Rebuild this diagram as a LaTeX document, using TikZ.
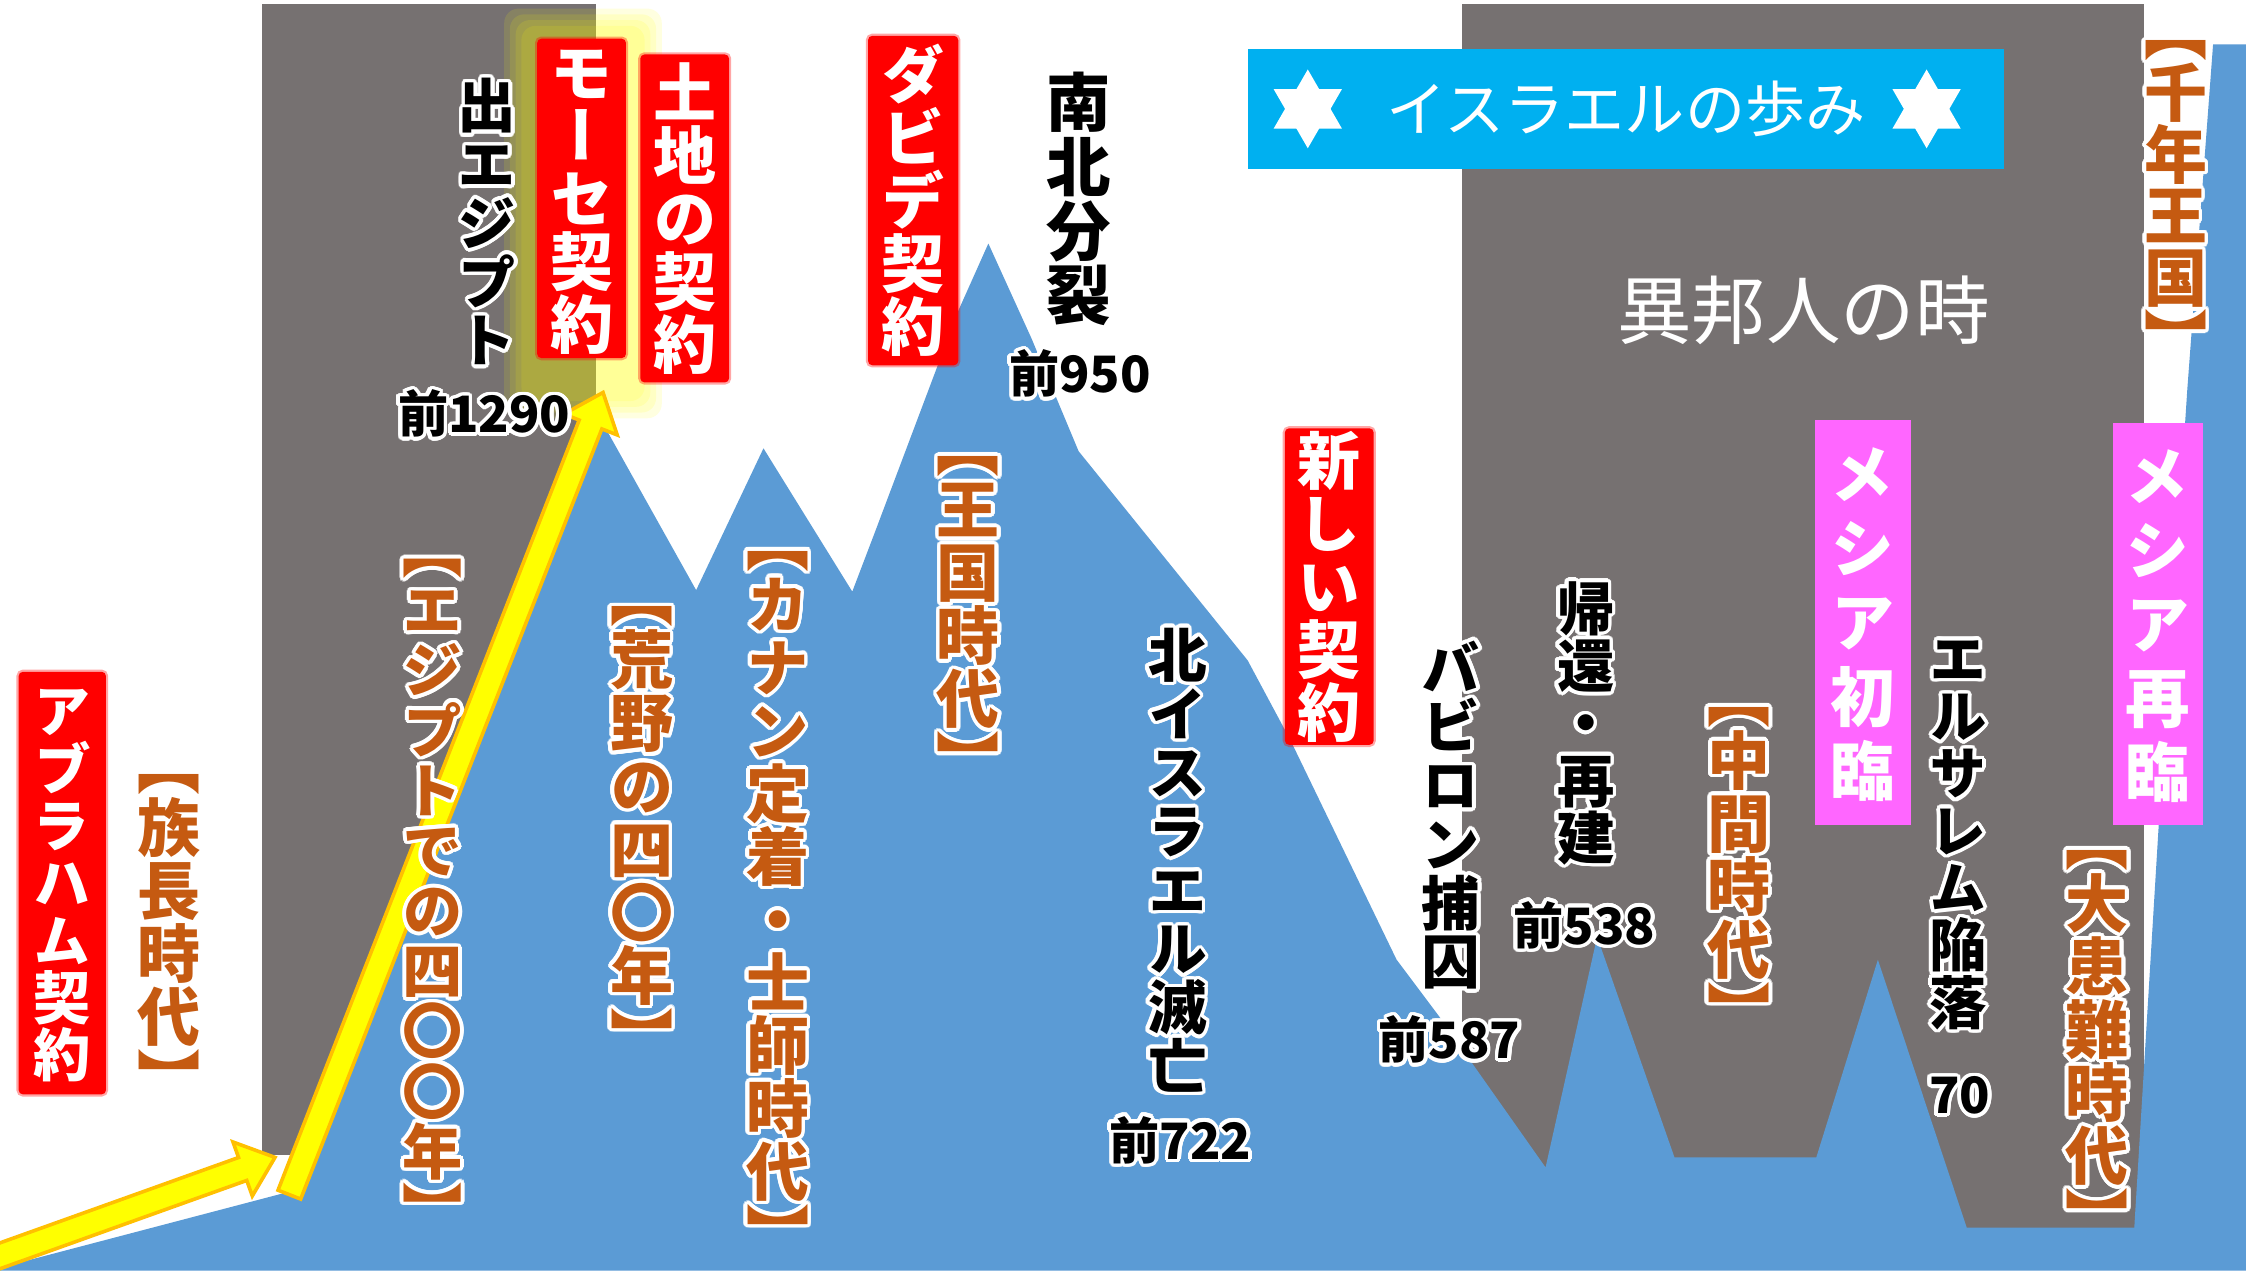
\documentclass[tikz,border=0pt]{standalone}
\usepackage{fontspec}
\usepackage{contour}
\usetikzlibrary{calc}
\newfontfamily\jph{Noto Sans CJK JP}
\newfontfamily\jpv{Noto Sans CJK JP}[RawFeature=+vert]
\contourlength{2.5pt}
\contournumber{24}
\definecolor{gry}{HTML}{767171}
\definecolor{mtn}{HTML}{5B9BD5}
\definecolor{org}{HTML}{C55A11}
\definecolor{pnk}{HTML}{FF66FF}
\definecolor{cyn}{HTML}{00B0F0}
\definecolor{ylw}{HTML}{FFFF00}
\definecolor{aro}{HTML}{FFC000}
\ExplSyntaxOn
\NewDocumentCommand{\vt}{O{1}m}
 {
  \vbox
   {
    \baselineskip=#1em
    \lineskiplimit=-1000pt
    \lineskip=0pt
    \tl_map_inline:nn {#2}
     { \hbox~to~1em {\hss\vrule~height~.88em~depth~.12em~width~0pt ##1\hss} }
   }
 }
\ExplSyntaxOff
\newcommand\gv[2][1]{\contour{white}{\vt[#1]{#2}}}
\tikzset{
  vfs/.style={inner sep=0pt, font=\jpv\bfseries\fontsize{#1}{#1}\selectfont},
  olab/.style={vfs=#1, text=org},
  blab/.style={vfs=#1, text=black},
  redbox/.style={fill=red, draw=red, draw opacity=0.35, line width=3pt, rounded corners=3pt, text=white},
  pinkbox/.style={fill=pnk, text=white},
  yr/.style={inner sep=0pt, text=black, font=\jph\bfseries\fontsize{35}{35}\selectfont},
  arw/.style={fill=ylw, draw=aro, line width=2.5pt, line join=miter},
}
\newcommand\fatarrow[2]{%
  \coordinate (#1b) at ($(#2)!24pt!(#1)$);
  \filldraw[arw] ($(#1)!8.5pt!90:(#2)$) -- ($(#1b)!8.5pt!-90:(#1)$) -- ($(#1b)!20pt!-90:(#1)$)
    -- (#2) -- ($(#1b)!20pt!90:(#1)$) -- ($(#1b)!8.5pt!90:(#1)$) -- ($(#1)!8.5pt!-90:(#2)$) -- cycle;
}
\begin{document}
\begin{tikzpicture}[x=1pt,y=-1pt]
\fill[white] (0,0) rectangle (1568,887);
\useasboundingbox (0,0) rectangle (1568,887);
% gray eras
\fill[gry] (183,3) rectangle (416,806);
\fill[gry] (1021,3) rectangle (1497,857);
% yellow glow
\foreach \d in {0,4,8,12}
  \fill[ylw, opacity=0.12, rounded corners=10pt] (352+\d,6+\d) rectangle (462-\d,292-\d);
% mountain
\fill[mtn] (0,887) -- (0,885) -- (198,833) -- (420,294) -- (486,412) -- (533,313) -- (595,413)
  -- (611,371) -- (669,217) -- (690,170) -- (720,236) -- (753,315) -- (871,461) -- (901,517)
  -- (975,670) -- (1005,710) -- (1079,815) -- (1115,654) -- (1169,808) -- (1268,808)
  -- (1311,670) -- (1373,857) -- (1490,857) -- (1507,577) -- (1527,272) -- (1545,31)
  -- (1568,31) -- (1568,887) -- cycle;
% arrows
\coordinate (a2s) at (202,834);
\coordinate (a2e) at (421,274);
\coordinate (a1s) at (-12,881);
\coordinate (a1e) at (192,808);
\fatarrow{a2s}{a2e}
\fatarrow{a1s}{a1e}
% title
\node[fill=cyn, minimum width=528pt, minimum height=84pt, inner sep=0pt, text=white,
      font=\jph\fontsize{42}{42}\selectfont] (ttl) at (1135,76) {イスラエルの歩み};
\coordinate (s1) at (913,76);
\coordinate (s2) at (1345,76);
\foreach \s in {s1,s2}{
  \fill[white] ($(\s)+(90:27.5)$) -- ($(\s)+(210:27.5)$) -- ($(\s)+(330:27.5)$) -- cycle;
  \fill[white] ($(\s)+(270:27.5)$) -- ($(\s)+(30:27.5)$) -- ($(\s)+(150:27.5)$) -- cycle;
}
\node[inner sep=0pt, text=white, font=\jph\fontsize{52}{52}\selectfont] (ihj) at (1259,217) {異邦人の時};
% red covenant boxes
\node[redbox, vfs=40, minimum width=61pt, minimum height=295pt] (abr) at (43.5,616.5) {\vt{アブラハム契約}};
\node[redbox, vfs=44, minimum width=62pt, minimum height=223pt] (mos) at (406,138.5) {\vt{モーセ契約}};
\node[redbox, vfs=44, minimum width=62pt, minimum height=229pt] (lnd) at (478,152.5) {\vt{土地の契約}};
\node[redbox, vfs=44, minimum width=63pt, minimum height=230pt] (dav) at (637.5,140) {\vt{ダビデ契約}};
\node[redbox, vfs=44, minimum width=62pt, minimum height=221pt] (new) at (928,409.5) {\vt{新しい契約}};
% messiah boxes
\node[pinkbox, vfs=45, minimum width=67pt, minimum height=283pt] (m1) at (1300.5,434.5) {\vt[1.15]{メシア初臨}};
\node[pinkbox, vfs=45, minimum width=63pt, minimum height=281pt] (m2) at (1506.5,435.5) {\vt[1.15]{メシア再臨}};
% era labels (orange)
\node[olab=44] (e1) at (118,645) {\gv{【族長時代】}};
\node[olab=42] (e2) at (302,616) {\gv{【エジプトでの四〇〇年】}};
\node[olab=44] (e3) at (448,572) {\gv{【荒野の四〇年】}};
\node[olab=44] (e4) at (543,621) {\gv{【カナン定着・士師時代】}};
\node[olab=44] (e5) at (676,423) {\gv{【王国時代】}};
\node[olab=44] (e6) at (1214,598) {\gv{【中間時代】}};
\node[olab=44] (e7) at (1464,720) {\gv{【大患難時代】}};
\node[olab=44] (e8) at (1519,130.5) {\gv[0.98]{【千年王国】}};
% event labels (black)
\node[blab=41] (v1) at (340,157) {\gv{出エジプト}};
\node[blab=45] (v2) at (753,140) {\gv{南北分裂}};
\node[blab=41] (v3) at (822,602) {\gv{北イスラエル滅亡}};
\node[blab=41] (v4) at (1013,570) {\gv{バビロン捕囚}};
\node[blab=40] (v5) at (1107,506) {\gv{帰還・再建}};
\node[blab=40] (v6) at (1367,581) {\gv{エルサレム陥落}};
% years
\node[yr] (y1) at (338,290) {\contour{white}{前1290}};
\node[yr] (y2) at (754,262) {\contour{white}{前950}};
\node[yr] (y3) at (824,797) {\contour{white}{前722}};
\node[yr] (y4) at (1012,727) {\contour{white}{前587}};
\node[yr] (y5) at (1106,647) {\contour{white}{前538}};
\node[yr] (y6) at (1368,766) {\contour{white}{70}};
\end{tikzpicture}
\end{document}
